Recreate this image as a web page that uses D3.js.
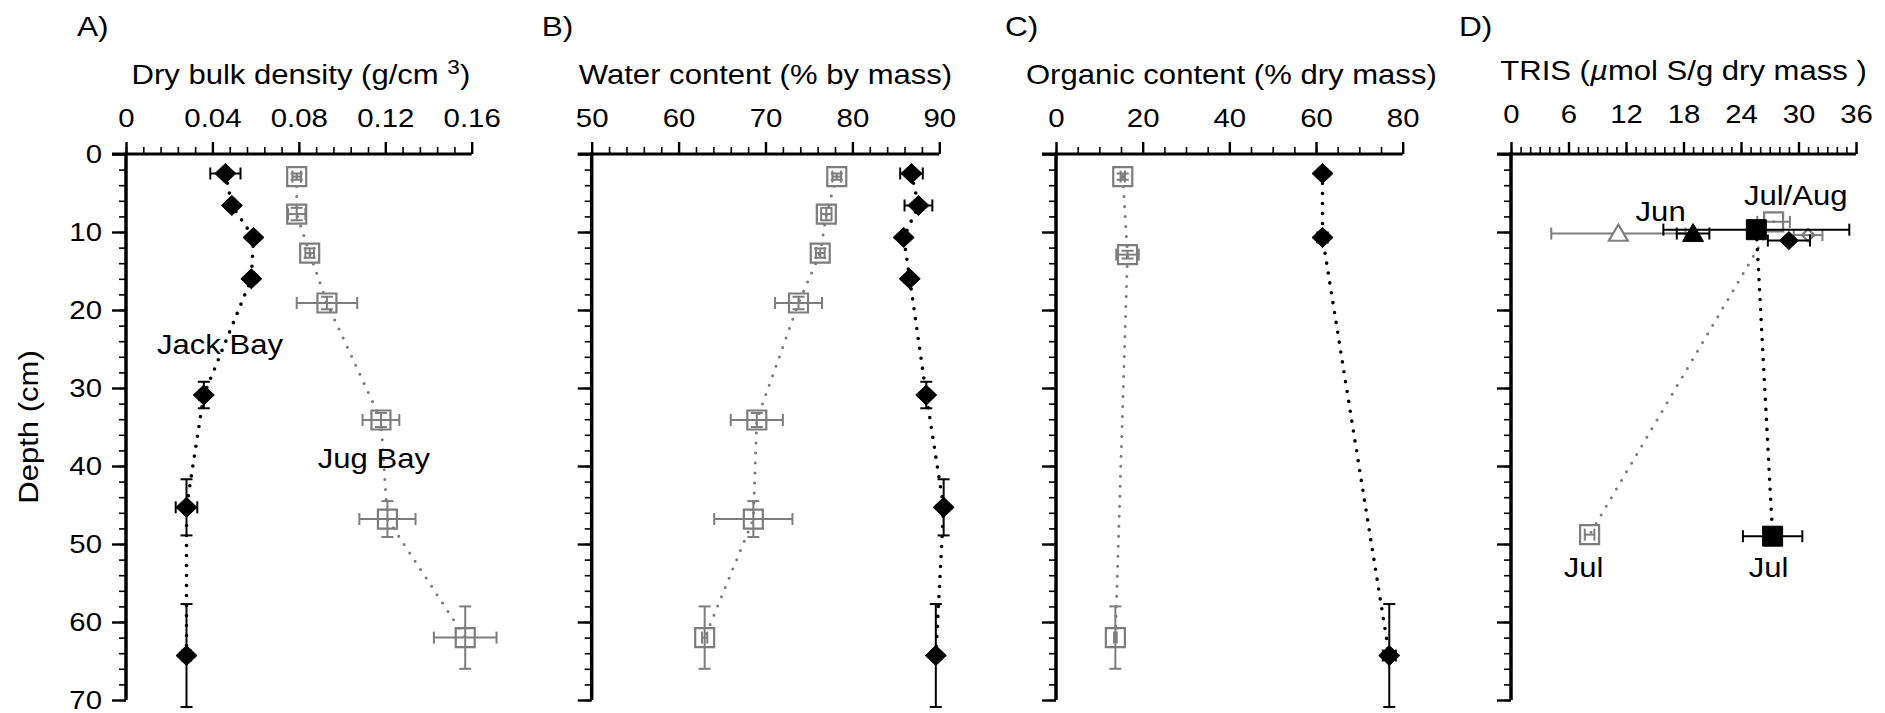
<!DOCTYPE html>
<html><head><meta charset="utf-8">
<script src="https://cdn.jsdelivr.net/npm/d3@7"></script>
<style>
body{margin:0;background:#fff}
svg{display:block}
text{font-family:"Liberation Sans",Arial,Helvetica,sans-serif;fill:#000}
</style>
</head><body>
<svg id="c" width="1885" height="713"></svg>
<script>
// ---------------- DATA ----------------
// Depths (cm) of the core sections
const jackDepth    = [2.5, 6.6, 10.7, 16.0, 30.9, 45.3, 64.3];
const jackDepthErr = [0.3, 0.3, 0.3, 0.5, 1.7, 3.6, 6.6];
const jugDepth     = [2.9, 7.7, 12.7, 19.1, 34.1, 46.8, 62.0];
const jugDepthErr  = [0.4, 0.8, 0.6, 0.8, 0.9, 2.3, 4.0];

// A) Dry bulk density (g/cm3)
const jackBulk    = [0.046, 0.049, 0.059, 0.058, 0.036, 0.028, 0.028];
const jackBulkErr = [0.007, 0.001, 0.001, 0.001, 0.002, 0.005, 0.002];
const jugBulk     = [0.079, 0.079, 0.085, 0.093, 0.118, 0.121, 0.157];
const jugBulkErr  = [0.002, 0.004, 0.002, 0.014, 0.0085, 0.013, 0.0145];

// B) Water content (% by mass)
const jackWater    = [86.8, 87.6, 85.9, 86.6, 88.5, 90.5, 89.6];
const jackWaterErr = [1.3, 1.6, 0.3, 0.3, 0.3, 0.3, 0.3];
const jugWater     = [78.2, 77.0, 76.3, 73.8, 69.0, 68.6, 63.0];
const jugWaterErr  = [0.5, 0.6, 0.5, 2.7, 3.0, 4.5, 0.3];

// C) Organic content (% dry mass)
const jackOrgDepth    = [2.5, 10.7, 64.3];
const jackOrgDepthErr = [0.3, 0.3, 6.6];
const jackOrganic     = [61.5, 61.5, 76.9];
const jackOrganicErr  = [0.8, 1.2, 1.5];
const jugOrgDepth     = [2.9, 12.9, 62.0];
const jugOrgDepthErr  = [0.4, 0.5, 4.0];
const jugOrganic      = [15.4, 16.5, 13.7];
const jugOrganicErr   = [0.5, 2.6, 0.3];

// D) TRIS (umol S / g dry mass)
const jugJunDepth  = [10.2]; const jugJunTris  = [11.2]; const jugJunErr  = [7.0];
const jackJunDepth = [10.2]; const jackJunTris = [19.0]; const jackJunErr = [1.7];
const jugJulDepth  = [8.7, 48.8]; const jugJulTris  = [27.4, 8.2];  const jugJulErr  = [1.7, 0.5];
const jackJulDepth = [9.7, 49.0]; const jackJulTris = [25.6, 27.3]; const jackJulErr = [9.7, 3.1];
const jackAugDepth = [11.1]; const jackAugTris = [29.0]; const jackAugErr = [2.2];
const jugAugDepth  = [10.4]; const jugAugTris  = [31.0]; const jugAugErr  = [1.5];

// Axis ticks
const depthTicks = [0, 10, 20, 30, 40, 50, 60, 70];
const ticksA = [0, 0.04, 0.08, 0.12, 0.16]; const labelsA = ["0", "0.04", "0.08", "0.12", "0.16"];
const ticksB = [50, 60, 70, 80, 90];        const labelsB = ["50", "60", "70", "80", "90"];
const ticksC = [0, 20, 40, 60, 80];         const labelsC = ["0", "20", "40", "60", "80"];
const ticksD = [0, 6, 12, 18, 24, 30, 36];  const labelsD = ["0", "6", "12", "18", "24", "30", "36"];

// ---------------- DRAWING ----------------
const SX = 1.13;                 // horizontal stretch of the lettering
const BLACK = "#000", GRAY = "#7d7d7d", GRAYLINE = "#7a7a7a";
const svg = d3.select("#c");
const Y0 = 154, Y1 = 700;
const y = d3.scaleLinear().domain([0, 70]).range([Y0, Y1]);

function text(g, x, yy, str, size, anchor) {
  return g.append("text")
    .attr("transform", `translate(${x},${yy}) scale(${SX},1)`)
    .attr("font-size", size)
    .attr("text-anchor", anchor || "middle")
    .text(str);
}

function makePanel(p) {
  const x = d3.scaleLinear().domain(p.domain).range([p.x0, p.x1]);
  const g = svg.append("g");
  const dy = p.dy || 0;

  const mx = g.append("g").attr("transform", `translate(0,${Y0})`)
    .call(d3.axisTop(x).tickValues(p.minor).tickSize(7).tickFormat("").tickSizeOuter(0));
  mx.select(".domain").remove();
  mx.selectAll("line").attr("stroke", BLACK).attr("stroke-width", 1.6);

  const ax = g.append("g").attr("transform", `translate(0,${Y0})`)
    .call(d3.axisTop(x).tickValues(p.major).tickSize(12).tickPadding(15 + dy)
      .tickFormat((d, i) => p.labels[i]).tickSizeOuter(0));
  ax.attr("font-family", null).attr("font-size", null);
  ax.select(".domain").remove();
  ax.selectAll("line").attr("stroke", BLACK).attr("stroke-width", 2.4);
  ax.selectAll("text").attr("font-size", 26).attr("transform", `scale(${SX},1)`);

  const my = g.append("g").attr("transform", `translate(${p.x0},0)`)
    .call(d3.axisLeft(y).tickValues(d3.range(0, 70.1, 2)).tickSize(7).tickFormat("").tickSizeOuter(0));
  my.select(".domain").remove();
  my.selectAll("line").attr("stroke", BLACK).attr("stroke-width", 1.6);

  const ay = g.append("g").attr("transform", `translate(${p.x0},0)`)
    .call(d3.axisLeft(y).tickValues(depthTicks).tickSize(14).tickPadding(10)
      .tickFormat(p.yLabels ? d3.format("d") : "").tickSizeOuter(0));
  ay.attr("font-family", null).attr("font-size", null);
  ay.select(".domain").remove();
  ay.selectAll("line").attr("stroke", BLACK).attr("stroke-width", 2.4);
  ay.selectAll("text").attr("font-size", 26).attr("x", -24 / SX).attr("transform", `scale(${SX},1)`);

  g.append("line").attr("x1", p.x0 - 14).attr("x2", p.x1).attr("y1", Y0).attr("y2", Y0)
    .attr("stroke", BLACK).attr("stroke-width", 3);
  g.append("line").attr("x1", p.x0).attr("x2", p.x0).attr("y1", Y0 - 1.5).attr("y2", Y1)
    .attr("stroke", BLACK).attr("stroke-width", 3.5);

  const t = text(g, (p.x0 + p.x1) / 2 + p.titleShift, 84 - dy, "", 27.5);
  p.title(t);
  text(g, p.letterX, 36, p.letter, 28, "start");

  return { x, g };
}

function series(P, depths, vals, xerr, yerr, style) {
  const { x, g } = P;
  const col = style.color;
  const pts = depths.map((d, i) => ({ d, v: vals[i], ex: xerr ? xerr[i] : 0, ey: yerr ? yerr[i] : 0 }));
  const sg = g.append("g");
  if (style.line && pts.length > 1) {
    sg.append("path")
      .attr("d", d3.line().x(p => x(p.v)).y(p => y(p.d))(pts))
      .attr("fill", "none").attr("stroke", style.lineColor || col)
      .attr("stroke-width", style.lineWidth || 3.4)
      .attr("stroke-linecap", "round").attr("stroke-dasharray", "0 10");
  }
  return { sg, pts, x, col };
}

function errorBars(s) {
  const { sg, pts, x, col } = s;
  const cap = 6;
  pts.forEach(p => {
    const cx = x(p.v), cy = y(p.d);
    const eg = sg.append("g").attr("stroke", col).attr("stroke-width", 2).attr("fill", "none");
    if (p.ex > 0) {
      const a = x(p.v - p.ex), b = x(p.v + p.ex);
      eg.append("line").attr("x1", a).attr("x2", b).attr("y1", cy).attr("y2", cy);
      eg.append("line").attr("x1", a).attr("x2", a).attr("y1", cy - cap).attr("y2", cy + cap);
      eg.append("line").attr("x1", b).attr("x2", b).attr("y1", cy - cap).attr("y2", cy + cap);
    }
    if (p.ey > 0) {
      const a = y(p.d - p.ey), b = y(p.d + p.ey);
      eg.append("line").attr("x1", cx).attr("x2", cx).attr("y1", a).attr("y2", b);
      eg.append("line").attr("x1", cx - cap).attr("x2", cx + cap).attr("y1", a).attr("y2", a);
      eg.append("line").attr("x1", cx - cap).attr("x2", cx + cap).attr("y1", b).attr("y2", b);
    }
  });
}

function markers(s, shape, filled, size) {
  const { sg, pts, x, col } = s;
  const r = size || 10;
  pts.forEach(p => {
    const cx = x(p.v), cy = y(p.d);
    let d;
    if (shape === "diamond") d = `M${cx},${cy - r}L${cx + r * 1.05},${cy}L${cx},${cy + r}L${cx - r * 1.05},${cy}Z`;
    else if (shape === "square") d = `M${cx - r},${cy - r}h${2 * r}v${2 * r}h${-2 * r}Z`;
    else if (shape === "triangle") d = `M${cx},${cy - r}L${cx + r * 1.05},${cy + r * 0.8}L${cx - r * 1.05},${cy + r * 0.8}Z`;
    sg.append("path").attr("d", d)
      .attr("fill", filled ? col : (shape === "triangle" ? "#fff" : "none"))
      .attr("stroke", col).attr("stroke-width", filled ? 1 : 2.2);
  });
}

function draw(P, depths, vals, xerr, yerr, opts) {
  const s = series(P, depths, vals, xerr, yerr, opts);
  if (opts.marksFirst) { markers(s, opts.shape, opts.filled, opts.size); errorBars(s); }
  else { errorBars(s); markers(s, opts.shape, opts.filled, opts.size); }
}

const jugStyle  = { color: GRAY, line: true, lineColor: GRAYLINE, lineWidth: 3, shape: "square", filled: false, size: 9.5 };
const jackStyle = { color: BLACK, line: true, lineWidth: 3.6, shape: "diamond", filled: true, size: 10, marksFirst: true };

// ---- Panel A ----
const PA = makePanel({
  letter: "A)", letterX: 77, x0: 126, x1: 471.7, domain: [0, 0.16],
  major: ticksA, labels: labelsA, minor: d3.range(0, 0.1601, 0.008), yLabels: true, titleShift: 2,
  title: t => { t.append("tspan").text("Dry bulk density (g/cm ");
                t.append("tspan").attr("font-size", 20).attr("dy", -10).text("3");
                t.append("tspan").attr("dy", 10).text(")"); }
});
draw(PA, jugDepth, jugBulk, jugBulkErr, jugDepthErr, jugStyle);
draw(PA, jackDepth, jackBulk, jackBulkErr, jackDepthErr, jackStyle);
text(PA.g, PA.x(0.0435), y(25.6), "Jack Bay", 27.5);
text(PA.g, PA.x(0.1147), y(40.2), "Jug Bay", 27.5);

svg.append("text").attr("transform", `translate(38,${(Y0 + Y1) / 2}) rotate(-90) scale(${SX},1)`)
  .attr("font-size", 27.5).attr("text-anchor", "middle").text("Depth (cm)");

// ---- Panel B ----
const PB = makePanel({
  letter: "B)", letterX: 541.7, x0: 591.7, x1: 939.3, domain: [50, 90],
  major: ticksB, labels: labelsB, minor: d3.range(50, 90.01, 2), titleShift: 0,
  title: t => t.text("Water content (% by mass)")
});
draw(PB, jugDepth, jugWater, jugWaterErr, jugDepthErr, jugStyle);
draw(PB, jackDepth, jackWater, jackWaterErr, jackDepthErr, jackStyle);

// ---- Panel C ----
const PC = makePanel({
  letter: "C)", letterX: 1005, x0: 1056, x1: 1402.7, domain: [0, 80],
  major: ticksC, labels: labelsC, minor: d3.range(0, 80.01, 5), titleShift: 2,
  title: t => t.text("Organic content (% dry mass)")
});
draw(PC, jugOrgDepth, jugOrganic, jugOrganicErr, jugOrgDepthErr, jugStyle);
draw(PC, jackOrgDepth, jackOrganic, jackOrganicErr, jackOrgDepthErr, jackStyle);

// ---- Panel D ----
const PD = makePanel({
  letter: "D)", letterX: 1459, x0: 1511, x1: 1856, domain: [0, 36], dy: 4,
  major: ticksD, labels: labelsD, minor: d3.range(0, 36.01, 1), titleShift: 0,
  title: t => { t.append("tspan").text("TRIS (");
                t.append("tspan").attr("font-style", "italic").text("\u00b5");
                t.append("tspan").text("mol S/g dry mass )"); }
});
draw(PD, jugJunDepth, jugJunTris, jugJunErr, null, { color: GRAY, shape: "triangle", filled: false, size: 9 });
draw(PD, jugJulDepth, jugJulTris, jugJulErr, null, { color: GRAY, line: true, lineColor: GRAYLINE, lineWidth: 3, shape: "square", filled: false, size: 9.5 });
draw(PD, jugAugDepth, jugAugTris, jugAugErr, null, { color: GRAY, shape: "diamond", filled: false, size: 6 });
draw(PD, jackJunDepth, jackJunTris, jackJunErr, null, { color: BLACK, shape: "triangle", filled: true, size: 10 });
draw(PD, jackJulDepth, jackJulTris, jackJulErr, null, { color: BLACK, line: true, lineWidth: 3.6, shape: "square", filled: true, size: 10 });
draw(PD, jackAugDepth, jackAugTris, jackAugErr, null, { color: BLACK, shape: "diamond", filled: true, size: 9 });
text(PD.g, PD.x(13.0), y(8.6), "Jun", 27.5, "start");
text(PD.g, PD.x(24.3), y(6.5), "Jul/Aug", 27.5, "start");
text(PD.g, PD.x(5.5), y(54.2), "Jul", 27.5, "start");
text(PD.g, PD.x(24.8), y(54.2), "Jul", 27.5, "start");
</script>
</body></html>
